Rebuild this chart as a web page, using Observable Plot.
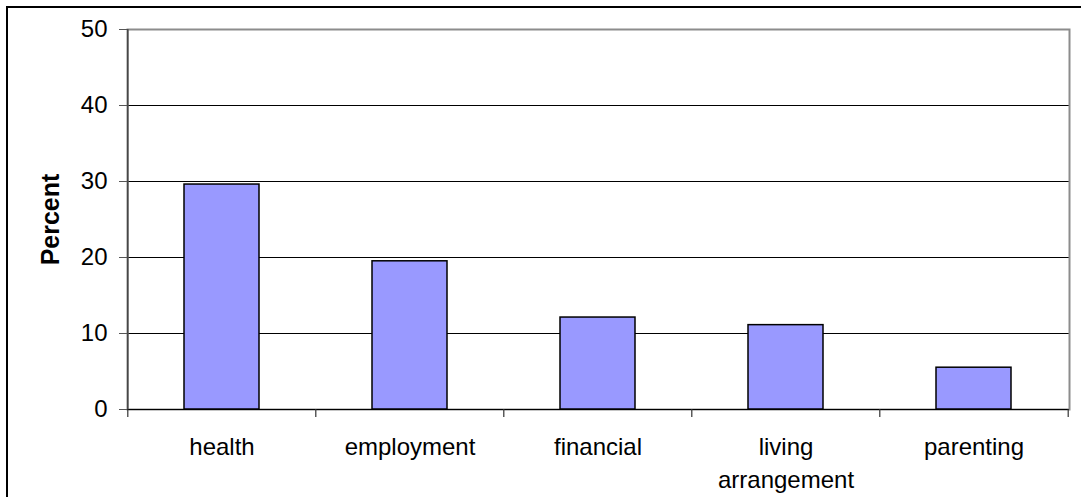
<!DOCTYPE html>
<html>
<head>
<meta charset="utf-8">
<script src="https://cdn.jsdelivr.net/npm/d3@7"></script>
<script src="https://cdn.jsdelivr.net/npm/@observablehq/plot@0.6"></script>
<style>
  html, body { margin: 0; padding: 0; background: #fff; overflow: hidden; }
  #wrap { position: relative; width: 1081px; height: 497px; overflow: hidden; }
  #border { position: absolute; left: 6px; top: 6px; width: 1200px; height: 700px; border: 2px solid #000; box-sizing: border-box; pointer-events: none; }
  svg { font-family: "Liberation Sans", Arial, sans-serif; }
</style>
</head>
<body>
<div id="wrap"><div id="border"></div><div id="chart"></div></div>
<script>
const categories = ["health", "employment", "financial", "living arrangement", "parenting"];
const percents = [29.6, 19.5, 12.1, 11.1, 5.5];
const yTicks = [0, 10, 20, 30, 40, 50];
const gridTicks = [10, 20, 30, 40];
const tickLabels = {"living arrangement": "living\narrangement"};

const data = categories.map((c, i) => ({category: c, value: percents[i]}));

const W = 1081, H = 497, mL = 127, mR = 12, mT = 29, mB = 88;
const step = (W - mL - mR) / categories.length;

const chart = Plot.plot({
  width: W,
  height: H,
  marginLeft: mL,
  marginRight: mR,
  marginTop: mT,
  marginBottom: mB,
  style: {fontFamily: "'Liberation Sans', Arial, sans-serif", fontSize: "24px", color: "#000", background: "transparent"},
  x: {domain: categories, paddingInner: 0.6, paddingOuter: 0.3, label: null},
  y: {domain: [0, 50], label: null},
  marks: [
    Plot.gridY(gridTicks, {stroke: "#000", strokeOpacity: 1, strokeWidth: 1}),
    Plot.frame({stroke: "#8c8c8c", strokeWidth: 2}),
    Plot.barY(data, {x: "category", y: "value", fill: "#9999ff", stroke: "#000", strokeWidth: 1.5}),
    Plot.ruleY([0], {stroke: "#000", strokeWidth: 1.2}),
    Plot.ruleX(categories, {x: d => d, y1: 0, y2: 50, dx: -step / 2, stroke: "#444", strokeWidth: 1.5, filter: (d, i) => i === 0}),
    Plot.ruleX(categories, {x: d => d, y1: 0, y2: -1.05, dx: -step / 2, stroke: "#333", strokeWidth: 1.2}),
    Plot.ruleX(categories.slice(-1), {x: d => d, y1: 0, y2: -1.05, dx: step / 2, stroke: "#333", strokeWidth: 1.2}),
    Plot.axisY(yTicks, {tickSize: 8, tickPadding: 12, fontSize: 24, stroke: "#555", label: null}),
    Plot.axisX({tickSize: 0, tickPadding: 22, fontSize: 24, lineHeight: 1.38, tickFormat: d => tickLabels[d] || d, label: null}),
    Plot.text(["Percent"], {frameAnchor: "left", textAnchor: "middle", dx: -77, rotate: -90, text: d => d, fontSize: 25, fontWeight: "bold", fill: "#000"})
  ]
});
document.getElementById("chart").appendChild(chart);
</script>
</body>
</html>
